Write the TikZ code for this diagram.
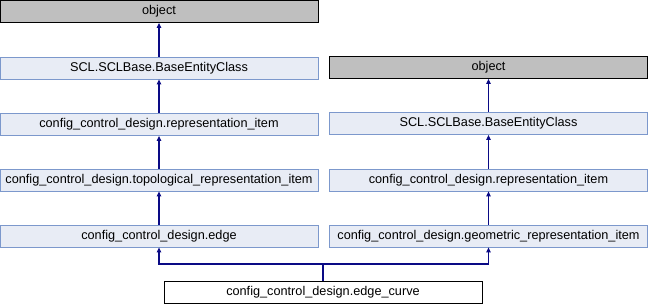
\documentclass[tikz,border=0pt]{standalone}
\usepackage{fontspec}
\setmainfont{Liberation Sans}
\usetikzlibrary{arrows.meta,positioning}
\definecolor{clsfill}{HTML}{E8ECF5}
\definecolor{clsdraw}{HTML}{7C98CC}
\definecolor{basefill}{HTML}{BFBFBF}
\definecolor{linkblue}{HTML}{0A0A85}

\begin{document}
\begin{tikzpicture}[x=1pt, y=-1pt, cls/.style={draw=clsdraw, fill=clsfill, line width=0.8pt, minimum width=318pt, minimum height=22pt, inner sep=0pt, font=\fontsize{12.7}{15}\selectfont}, root/.style={cls, draw=black, fill=basefill}, leaf/.style={cls, draw=black, fill=white}, arr/.style={{Triangle[length=5pt, width=4.5pt]}-, line width=1.1pt, linkblue}]
\useasboundingbox (0,0) rectangle (648,304);
% left chain
\node[root] (objL) at (159,11.5) {object}; \node[cls] (baseL) at (159,68) {SCL.SCLBase.BaseEntityClass}; \node[cls] (repL) at (159,124.5) {config\_control\_design.representation\_item}; \node[cls] (topo) at (159,180) {config\_control\_design.topological\_representation\_item}; \node[cls] (edge) at (159,236) {config\_control\_design.edge};
% right chain
\node[root] (objR) at (488.5,67.5) {object}; \node[cls] (baseR) at (488.5,123.5) {SCL.SCLBase.BaseEntityClass}; \node[cls] (repR) at (488.5,180) {config\_control\_design.representation\_item}; \node[cls] (geom) at (488.5,236) {config\_control\_design.geometric\_representation\_item};
\node[leaf] (curve) at (323,292) {config\_control\_design.edge\_curve};
\coordinate (fork) at (323,264);
\draw[arr] (objL) -- (baseL); \draw[arr] (baseL) -- (repL); \draw[arr] (repL) -- (topo); \draw[arr] (topo) -- (edge);
\draw[arr] (objR) -- (baseR); \draw[arr] (baseR) -- (repR); \draw[arr] (repR) -- (geom);
\draw[linkblue, line width=1.1pt] (curve) -- (fork); \draw[arr] (edge) |- (fork); \draw[arr] (geom) |- (fork);
\end{tikzpicture}
\end{document}
